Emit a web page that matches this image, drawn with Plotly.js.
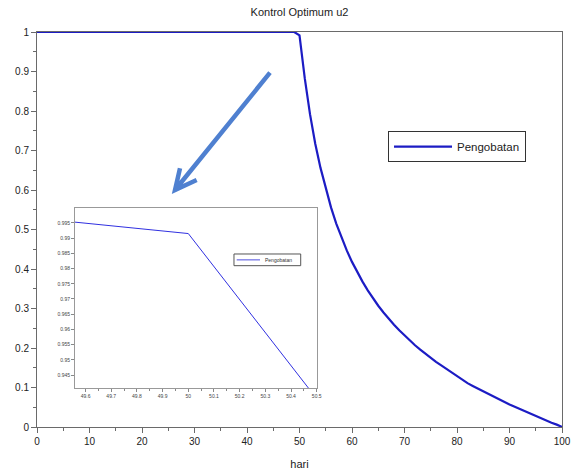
<!DOCTYPE html>
<html>
<head>
<meta charset="utf-8">
<script src="https://cdn.plot.ly/plotly-3.0.1.min.js"></script>
<style>html,body{margin:0;padding:0;background:#fff;}#chart{width:574px;height:475px;}</style>
</head>
<body>
<div id="chart"></div>
<script>
// Data
const hari = [];
for (let d = 0; d <= 100; d++) hari.push(d);
const u2 = [
  1,1,1,1,1,1,1,1,1,1,
  1,1,1,1,1,1,1,1,1,1,
  1,1,1,1,1,1,1,1,1,1,
  1,1,1,1,1,1,1,1,1,1,
  1,1,1,1,1,1,1,1,1,1,
  0.9915,0.883,0.792,0.717,0.656,0.603,0.556,0.515,0.479,0.447,
  0.418,0.392,0.368,0.346,0.326,0.307,0.290,0.274,0.259,0.245,
  0.232,0.219,0.207,0.196,0.185,0.175,0.165,0.156,0.147,0.138,
  0.127,0.119,0.111,0.104,0.097,0.090,0.083,0.076,0.069,0.063,
  0.057,0.051,0.045,0.039,0.033,0.028,0.022,0.017,0.011,0.006,
  0
];
const seriesName = "Pengobatan";
const chartTitle = "Kontrol Optimum u2";
const xTitle = "hari";
const mainXTicks = [0,10,20,30,40,50,60,70,80,90,100];
const mainYTicks = [0,0.1,0.2,0.3,0.4,0.5,0.6,0.7,0.8,0.9,1];
const insetXTicks = [49.6,49.7,49.8,49.9,50,50.1,50.2,50.3,50.4,50.5];
const insetYTicks = [0.945,0.95,0.955,0.96,0.965,0.97,0.975,0.98,0.985,0.99,0.995];

const FONT = "Liberation Sans, Arial, sans-serif";
const AX = "#6a6a6a";
const INSET_LINE = "#3030e0";

const traces = [
  {x: hari, y: u2, type: "scatter", mode: "lines", name: seriesName,
   line: {color: "#1c1cc4", width: 2.2}, xaxis: "x", yaxis: "y", showlegend: true},
  {x: hari, y: u2, type: "scatter", mode: "lines", name: seriesName,
   line: {color: INSET_LINE, width: 1}, xaxis: "x2", yaxis: "y2", showlegend: false}
];

const layout = {
  width: 574, height: 475,
  margin: {l: 37, r: 12, t: 32, b: 48},
  paper_bgcolor: "#fff", plot_bgcolor: "#fff",
  font: {family: FONT, size: 10, color: "#222"},
  title: {text: chartTitle, x: 0.5, xref: "paper", y: 0.975, yanchor: "middle",
          font: {family: FONT, size: 11, color: "#222"}},
  xaxis: {range: [0, 100], tickvals: mainXTicks, ticks: "outside", ticklen: 5, tickcolor: AX,
          showline: true, linecolor: AX, linewidth: 1, mirror: true, showgrid: false, zeroline: false,
          minor: {dtick: 5, ticks: "outside", ticklen: 3, tickcolor: AX},
          title: {text: xTitle, standoff: 14, font: {family: FONT, size: 11, color: "#222"}},
          tickfont: {family: FONT, size: 10, color: "#222"}, domain: [0, 1]},
  yaxis: {range: [0, 1], tickvals: mainYTicks, ticks: "outside", ticklen: 5, tickcolor: AX,
          showline: true, linecolor: AX, linewidth: 1, mirror: true, showgrid: false, zeroline: false,
          minor: {dtick: 0.05, ticks: "outside", ticklen: 3, tickcolor: AX},
          tickfont: {family: FONT, size: 10, color: "#222"}, domain: [0, 1]},
  xaxis2: {anchor: "y2", domain: [0.0724, 0.5328], range: [49.559, 50.5], tickvals: insetXTicks,
           ticks: "outside", ticklen: 3, tickcolor: "#888", showline: true, linecolor: "#999",
           linewidth: 1, mirror: true, showgrid: false, zeroline: false,
           minor: {dtick: 0.05, ticks: "outside", ticklen: 2, tickcolor: "#888"},
           tickfont: {family: FONT, size: 5, color: "#444"}},
  yaxis2: {anchor: "x2", domain: [0.0975, 0.5537], range: [0.9406, 0.9998], tickvals: insetYTicks,
           ticks: "outside", ticklen: 3, tickcolor: "#888", showline: true, linecolor: "#999",
           linewidth: 1, mirror: true, showgrid: false, zeroline: false,
           tickfont: {family: FONT, size: 5, color: "#444"}},
  legend: {x: 0.6686, y: 0.749, xanchor: "left", yanchor: "top", bgcolor: "#fff",
           bordercolor: "#333", borderwidth: 1, itemwidth: 58,
           font: {family: FONT, size: 11.5, color: "#222"}},
  shapes: [
    // arrow pointing at the inset
    {type: "path", xref: "paper", yref: "paper",
     path: "M 0.4438 0.897 L 0.2629 0.600 M 0.2724 0.655 L 0.2629 0.600 L 0.3041 0.6253",
     line: {color: "#4f80d0", width: 4.5}},
    // inset legend box
    {type: "rect", xref: "paper", yref: "paper", x0: 0.3752, x1: 0.5023, y0: 0.4084, y1: 0.438,
     line: {color: "#555", width: 1}, fillcolor: "#fff"},
    {type: "line", xref: "paper", yref: "paper", x0: 0.3804, x1: 0.4248, y0: 0.4232, y1: 0.4232,
     line: {color: "#7777e6", width: 1.3}}
  ],
  annotations: [
    {xref: "paper", yref: "paper", x: 0.4305, y: 0.4232, xanchor: "left", yanchor: "middle",
     text: seriesName, showarrow: false, font: {family: FONT, size: 5, color: "#333"}}
  ]
};

Plotly.newPlot("chart", traces, layout, {displayModeBar: false, staticPlot: true});
</script>
</body>
</html>
